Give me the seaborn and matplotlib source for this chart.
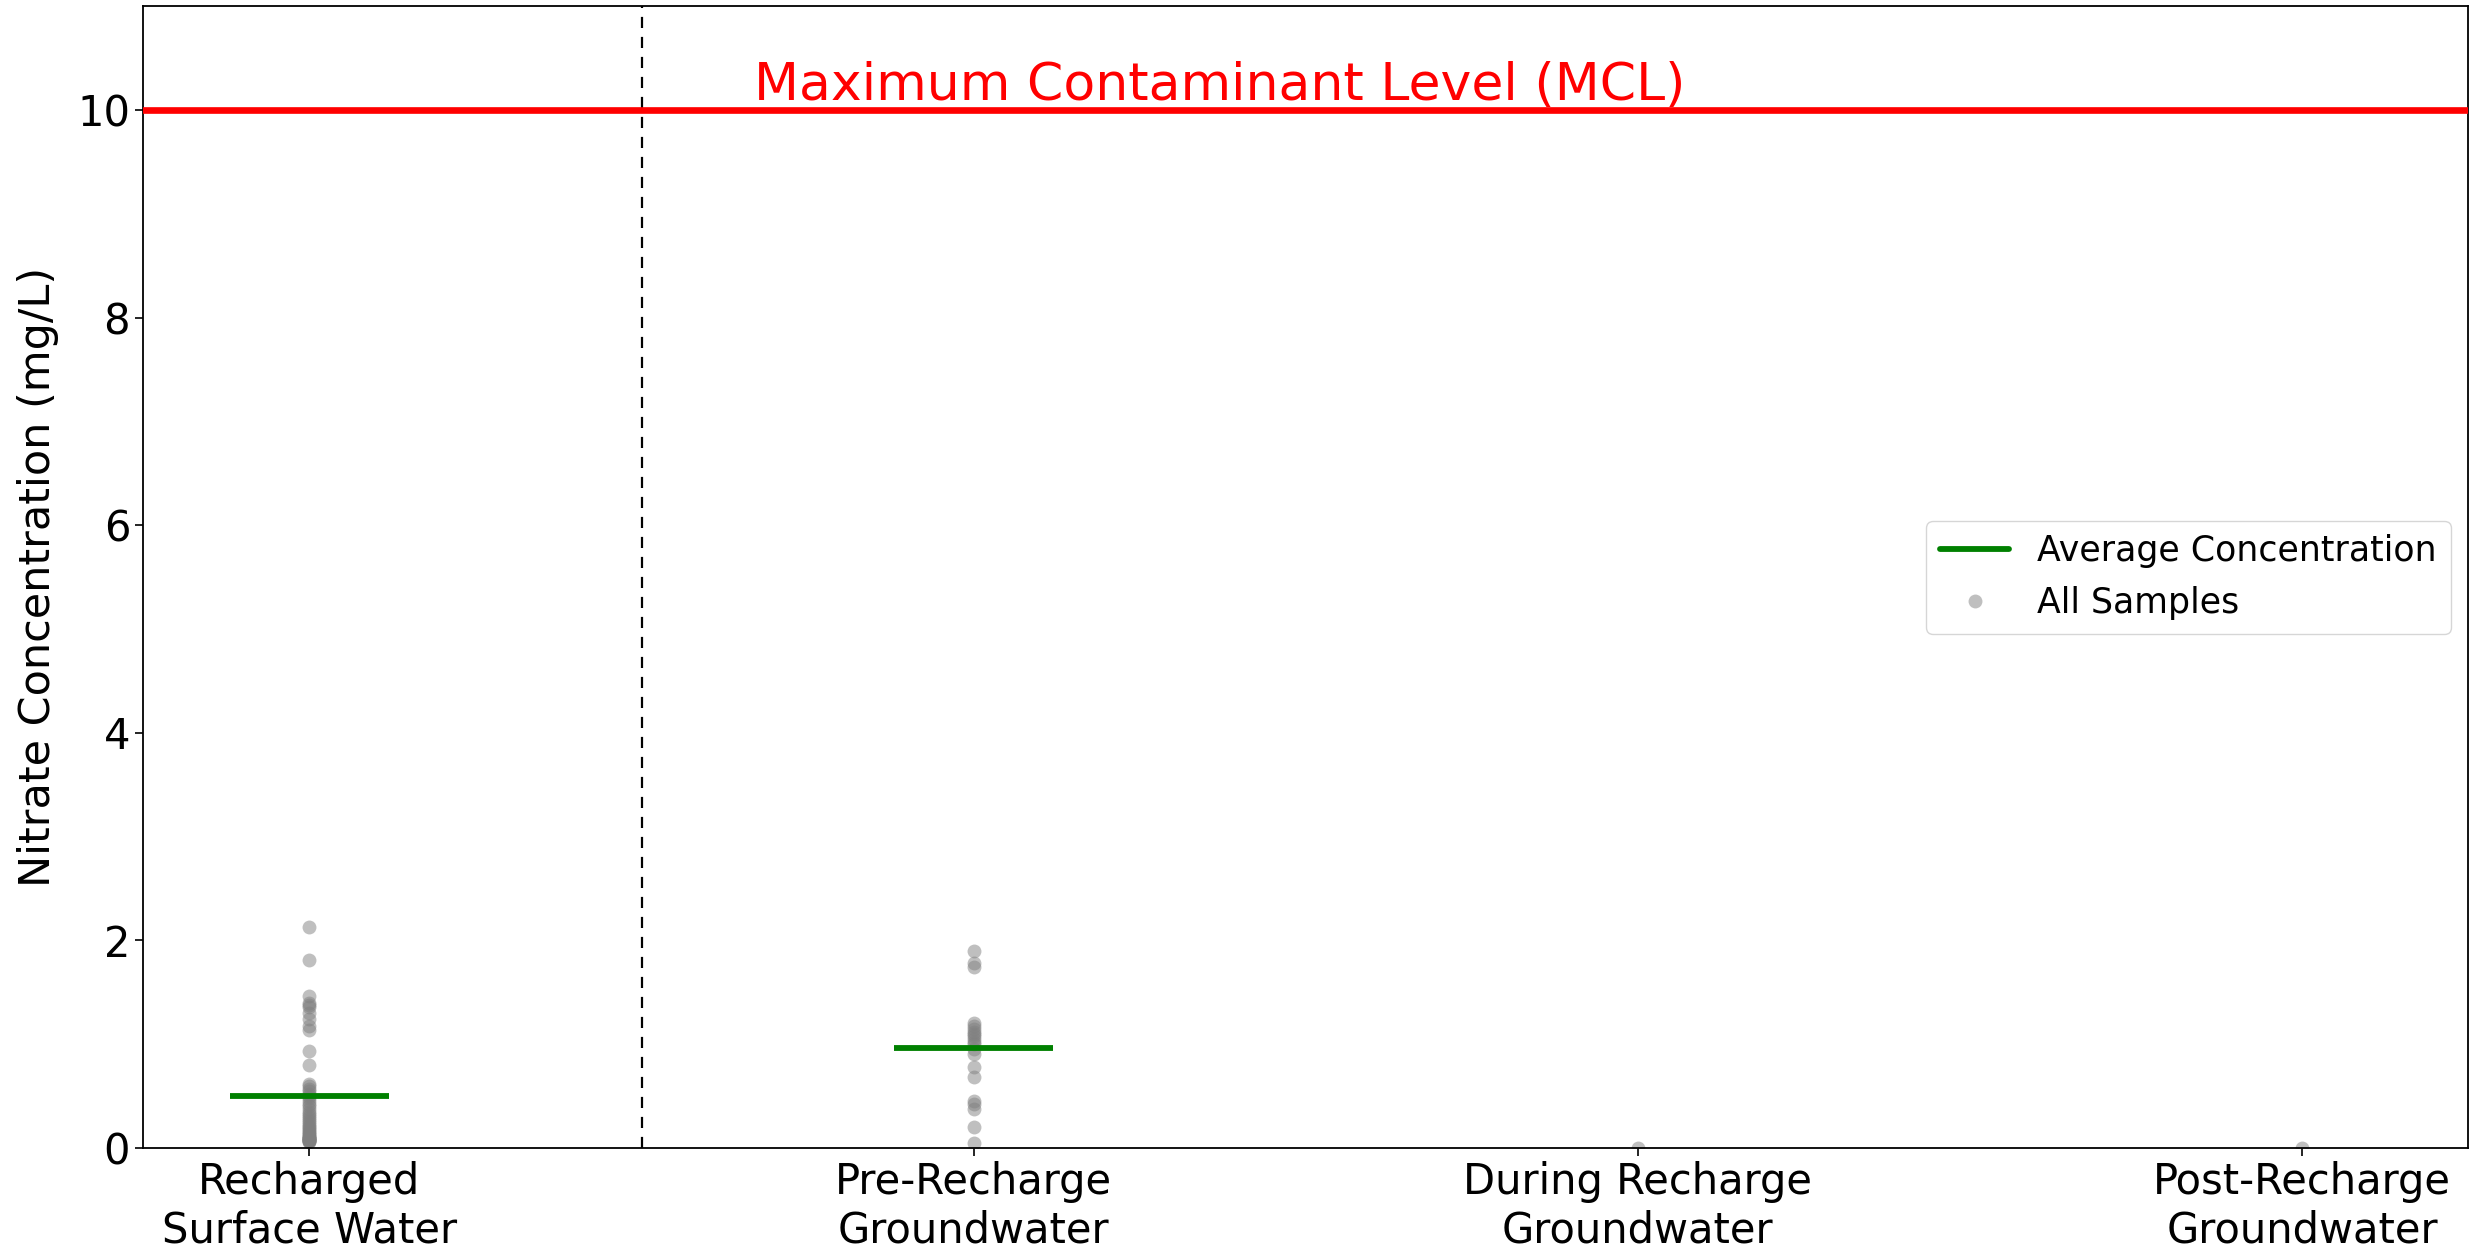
import numpy as np
import pandas as pd
import matplotlib
matplotlib.use("Agg")
import matplotlib.pyplot as plt
import seaborn as sns
from matplotlib.lines import Line2D

# sample groups (x axis)
groups = ["Recharged\nSurface Water", "Pre-Recharge\nGroundwater",
          "During Recharge\nGroundwater", "Post-Recharge\nGroundwater"]

# nitrate values (mg/L)
surface_water = [2.13, 1.81, 1.46, 1.40, 1.38, 1.36, 1.30, 1.24, 1.18, 1.14, 0.93, 0.80,
                 0.62, 0.60, 0.57, 0.55, 0.52, 0.50, 0.48, 0.45, 0.42, 0.40,
                 0.38, 0.35, 0.33, 0.31, 0.29, 0.27, 0.25, 0.23, 0.21, 0.20,
                 0.18, 0.17, 0.15, 0.14, 0.13, 0.12, 0.11, 0.10, 0.10, 0.09,
                 0.09, 0.08, 0.08, 0.08, 0.07, 0.07, 0.07, 0.06, 0.10, 0.12]
pre_recharge = [1.90, 1.78, 1.74, 1.20, 1.18, 1.15, 1.12, 1.10, 1.08, 1.05, 1.02,
                1.00, 0.95, 0.91, 0.78, 0.68, 0.45, 0.42, 0.38, 0.20, 0.05]
during_recharge = [0.0]
post_recharge = [0.0]

mcl = 10

samples = pd.DataFrame({
    "group": [groups[0]] * len(surface_water) + [groups[1]] * len(pre_recharge)
             + [groups[2]] * len(during_recharge) + [groups[3]] * len(post_recharge),
    "nitrate": surface_water + pre_recharge + during_recharge + post_recharge,
})

# averages only for the groups that have real samples
avg_groups = groups[:2]
averages = [np.mean(surface_water), np.mean(pre_recharge)]

sns.set_style("ticks")
plt.rcParams["font.family"] = ["DejaVu Sans"]
plt.rcParams.update({"text.color": "black", "axes.labelcolor": "black",
                     "xtick.color": "black", "ytick.color": "black"})

fig, ax = plt.subplots(figsize=(24.73, 12.56), dpi=100)
fig.subplots_adjust(left=0.058, right=0.998, top=0.995, bottom=0.086)

sns.stripplot(data=samples, x="group", y="nitrate", order=groups, jitter=False,
              color="grey", alpha=0.5, size=10, linewidth=0, ax=ax, zorder=2)

for g, m in zip(avg_groups, averages):
    i = groups.index(g)
    ax.hlines(m, i - 0.12, i + 0.12, color="green", linewidth=4.2, zorder=3)

ax.axhline(mcl, color="red", linewidth=4.8, zorder=4)
ax.axvline(0.5, color="black", linestyle="--", linewidth=1.6, dashes=(5, 4))
ax.text(0.67, 10.1, "Maximum Contaminant Level (MCL)", color="red", fontsize=37.5)

ax.set_xlim(-0.25, 3.25)
ax.set_ylim(0, 11)
ax.set_yticks([0, 2, 4, 6, 8, 10])
ax.set_xlabel("")
ax.set_ylabel("Nitrate Concentration (mg/L)", fontsize=31, labelpad=13)
ax.tick_params(axis="both", labelsize=30, width=1.2, length=6)
for s in ax.spines.values():
    s.set_color("black")
    s.set_linewidth(1.3)

handles = [Line2D([0], [0], color="green", linewidth=4.2),
           Line2D([0], [0], marker="o", color="grey", alpha=0.5, linestyle="",
                  markersize=10, markeredgewidth=0)]
ax.legend(handles, ["Average Concentration", "All Samples"], loc="center right",
          fontsize=25, frameon=True)

fig.savefig("out.png", dpi=100)
